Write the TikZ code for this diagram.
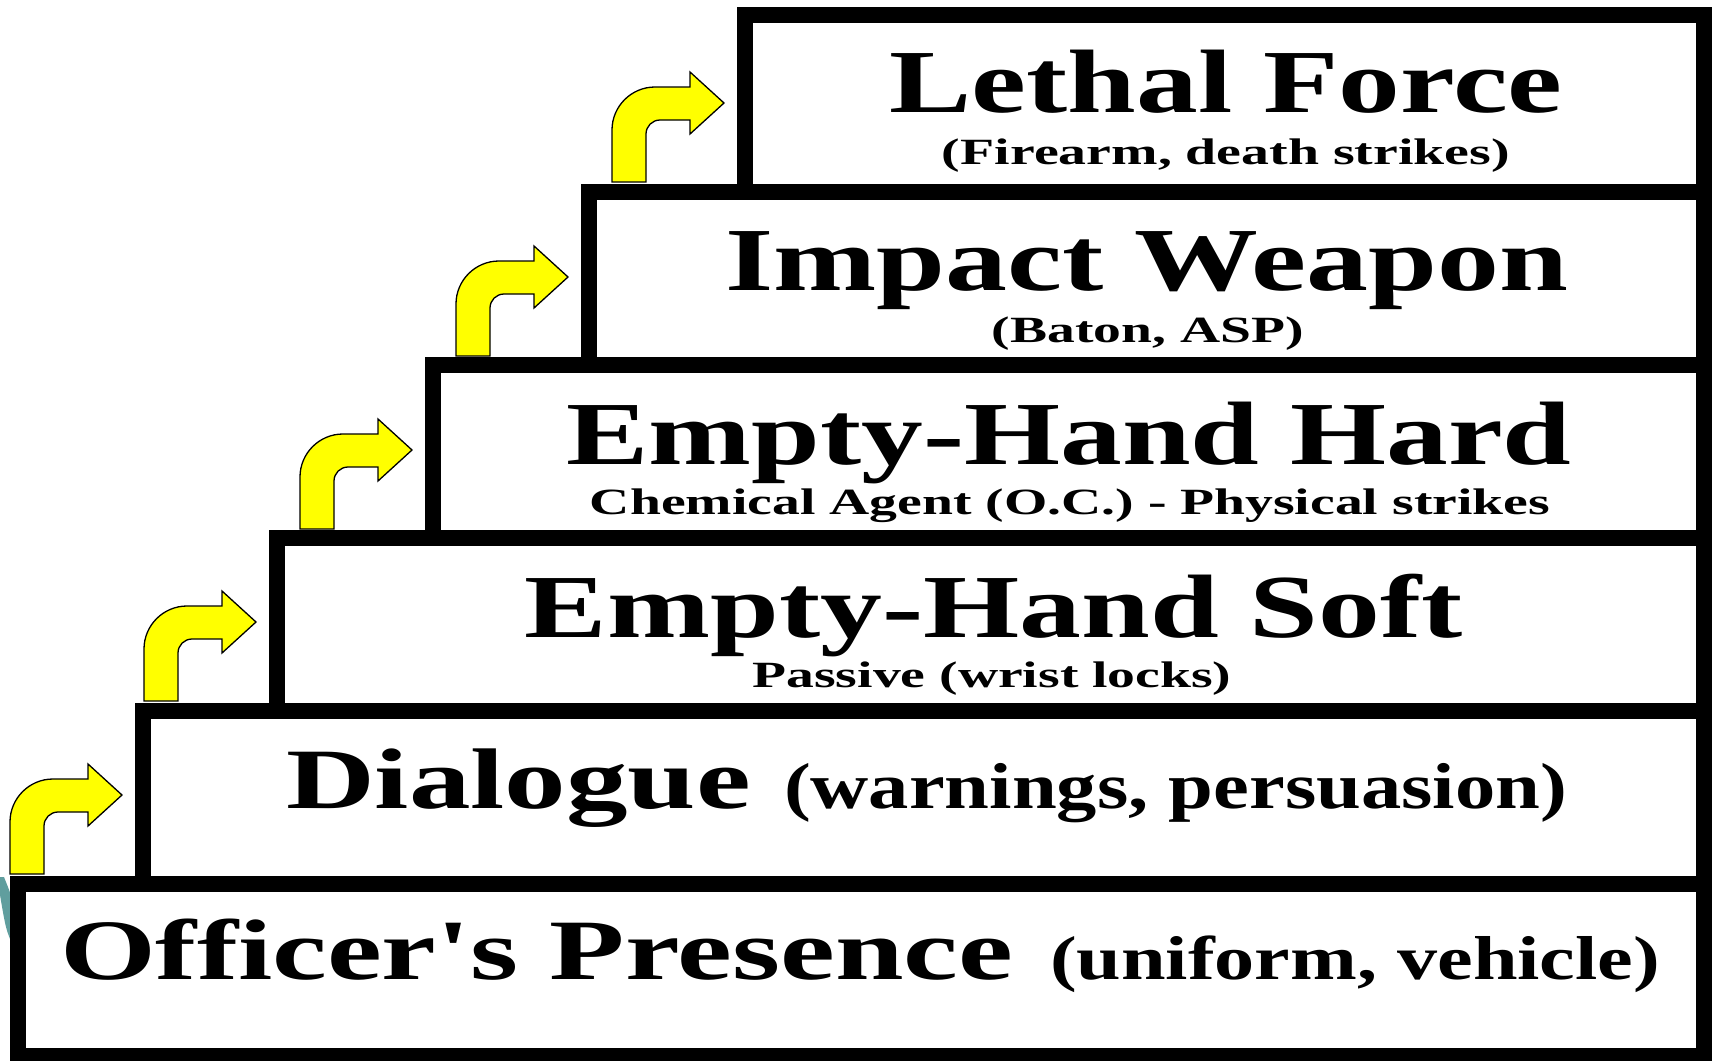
\documentclass[tikz,border=0pt]{standalone}
\usepackage{fontspec}
\setmainfont{Liberation Serif}
\usepackage{graphicx}
\definecolor{arrowyellow}{RGB}{255,255,0}
\definecolor{tealring}{RGB}{96,158,158}
\newcommand{\wtext}[3]{\resizebox{#1pt}{\height}{\fontsize{#2}{#2}\selectfont\bfseries #3}}
\begin{document}
\begin{tikzpicture}[x=1pt,y=-1pt,
  stairbox/.style={draw=black, line width=16pt, fill=white, inner sep=0pt, outer sep=0pt, anchor=north west},
  lbl/.style={inner sep=0pt, outer sep=0pt},
  bentarrow/.pic={\filldraw[fill=arrowyellow, draw=black, line width=1.3pt, line join=miter]
     (0,0) -- (0,-52) .. controls (0,-75.7) and (19.3,-95) .. (43,-95) -- (78,-95) -- (78,-110)
     -- (112,-79) -- (78,-48) -- (78,-62) -- (48,-62) .. controls (40.3,-62) and (34,-55.7) .. (34,-48)
     -- (34,0) -- cycle;}]
\useasboundingbox (0,0) rectangle (1712,1060);
\clip (0,0) rectangle (1712,1060);
\fill[white] (0,0) rectangle (1712,1060);
% partial teal ring at the left edge
\fill[tealring] (0,877) -- (4,877) .. controls (10,892) .. (14,905) -- (14,948) .. controls (6,930) .. (0,895) -- cycle;
% stair boxes
\node[stairbox, minimum width=959pt, minimum height=177pt] (lethal) at (745,15) {};
\node[stairbox, minimum width=1115pt, minimum height=173pt] (impact) at (589,192) {};
\node[stairbox, minimum width=1271pt, minimum height=173pt] (hard) at (433,365) {};
\node[stairbox, minimum width=1427pt, minimum height=173pt] (soft) at (277,538) {};
\node[stairbox, minimum width=1561pt, minimum height=173pt] (dialogue) at (143,711) {};
\node[stairbox, minimum width=1686pt, minimum height=172pt] (officer) at (18,884) {};
% bent arrows
\pic at (10,874) {bentarrow};
\pic at (144,701) {bentarrow};
\pic at (300,529) {bentarrow};
\pic at (456,356) {bentarrow};
\pic at (612,182) {bentarrow};
% texts
\node[lbl, anchor=base] (t1) at (1226,112) {\wtext{673}{90}{Lethal Force}};
\node[lbl, anchor=base] (s1) at (1226,164) {\wtext{568}{37}{(Firearm, death strikes)}};
\node[lbl, anchor=base] (t2) at (1147,290) {\wtext{843}{90}{Impact Weapon}};
\node[lbl, anchor=base] (s2) at (1148,342) {\wtext{312}{37}{(Baton, ASP)}};
\node[lbl, anchor=base] (t3) at (1069,464) {\wtext{1005}{90}{Empty-Hand Hard}};
\node[lbl, anchor=base] (s3) at (1070,514) {\wtext{960}{37}{Chemical Agent (O.C.) - Physical strikes}};
\node[lbl, anchor=base] (t4) at (994,637) {\wtext{938}{90}{Empty-Hand Soft}};
\node[lbl, anchor=base] (s4) at (992,687) {\wtext{479}{37}{Passive (wrist locks)}};
\node[lbl, anchor=base west] (t5) at (286,808) {\wtext{465}{86}{Dialogue}};
\node[lbl, anchor=base west] (s5) at (784,808) {\wtext{783}{65}{(warnings, persuasion)}};
\node[lbl, anchor=base west] (t6) at (60,979) {\wtext{953}{86}{Officer\textquotesingle s Presence}};
\node[lbl, anchor=base west] (s6) at (1050,979) {\wtext{610}{62}{(uniform, vehicle)}};
\end{tikzpicture}
\end{document}
